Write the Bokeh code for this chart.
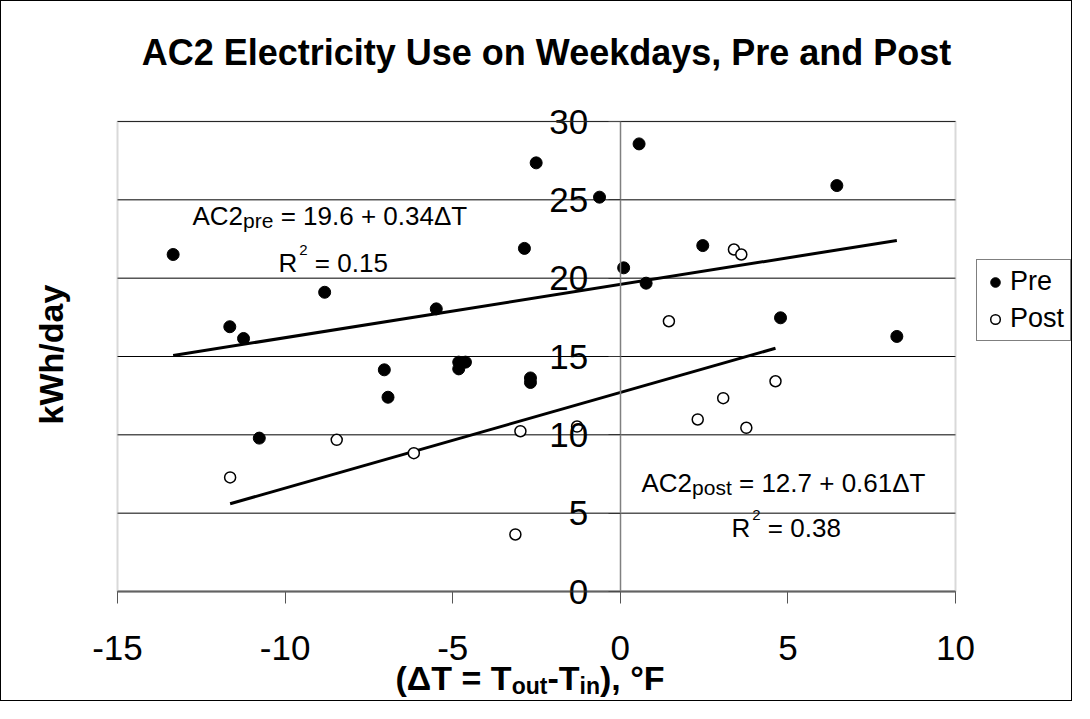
import math
from bokeh.plotting import figure
from bokeh.models import (Label, Legend, LegendItem, FixedTicker, LinearAxis, Range1d,
                          BoxAnnotation)
from bokeh.embed import file_html
from bokeh.resources import INLINE

# ---------------- data ----------------
title_text = "AC2 Electricity Use on Weekdays, Pre and Post"
series_names = ["Pre", "Post"]

pre_x = [-13.34, -11.65, -11.24, -10.77, -8.82, -7.04, -6.93, -5.49, -4.82, -4.62,
         -4.82, -2.68, -2.68, -2.86, -2.51, -0.62, 0.56, 0.10, 0.77, 2.46, 6.46, 4.78, 8.25]
pre_y = [21.51, 16.90, 16.15, 9.79, 19.10, 14.15, 12.40, 18.04, 14.64, 14.64,
         14.21, 13.63, 13.34, 21.90, 27.36, 25.17, 28.57, 20.66, 19.68, 22.08, 25.91, 17.47, 16.28]

post_x = [-11.64, -8.46, -6.16, -2.98, -3.13, -1.29, 2.31, 3.07, 3.76, 4.63, 1.45, 3.39, 3.61]
post_y = [7.28, 9.68, 8.83, 10.23, 3.64, 10.53, 10.98, 12.34, 10.45, 13.42, 17.25, 21.83, 21.51]

pre_intercept, pre_slope, pre_r2 = 19.6, 0.34, "0.15"
post_intercept, post_slope, post_r2 = 12.7, 0.61, "0.38"

x_ticks = [-15, -10, -5, 0, 5, 10]
y_ticks = [0, 5, 10, 15, 20, 25, 30]
y_label = "kWh/day"

# ---------------- layout ----------------
FONT = "Liberation Sans"
W, H = 1072, 701
OX, OY = 1, 1                        # canvas origin in the picture
FL, FR, FT, FB = 117, 955, 121, 591  # data box edges in the picture
XMIN, XMAX, YMIN, YMAX = x_ticks[0], x_ticks[-1], y_ticks[0], y_ticks[-1]
KX = (XMAX - XMIN) / (FR - FL)
KY = (YMAX - YMIN) / (FB - FT)

x_range = Range1d(XMIN - (FL - OX) * KX, XMAX + (OX + W - FR) * KX)
y_range = Range1d(YMIN - (OY + H - FB) * KY, YMAX + (FT - OY) * KY)

p = figure(width=W, height=H, x_range=x_range, y_range=y_range, title=None,
           output_backend="svg", toolbar_location=None,
           x_axis_location=None, y_axis_location=None, min_border=0)
p.styles = {"border": "1px solid black"}
p.background_fill_color = "white"
p.border_fill_color = "white"
p.outline_line_color = None
p.xgrid.visible = False
p.ygrid.visible = False

def px2x(px):
    return XMIN + (px - FL) * KX

def py2y(py):
    return YMIN + (FB - py) * KY

# horizontal grid lines at the y ticks
n = len(y_ticks)
p.segment(x0=[XMIN] * n, y0=y_ticks, x1=[XMAX] * n, y1=y_ticks, line_color="black", line_width=1)

# plot-area border
p.add_layout(BoxAnnotation(left=XMIN, right=XMAX, bottom=YMIN, top=YMAX,
                           fill_color=None, line_color="#808080", line_width=2))

# x axis along y = 0
xa = LinearAxis(fixed_location=0, bounds=(XMIN, XMAX), ticker=FixedTicker(ticks=x_ticks))
xa.major_label_overrides = {t: str(t) for t in x_ticks}
xa.major_label_text_font = FONT
xa.major_label_text_font_size = "35px"
xa.major_label_text_color = "black"
xa.major_label_standoff = 32
xa.major_tick_out = 12
xa.major_tick_in = 0
xa.minor_tick_line_color = None
xa.axis_line_color = "#555555"
xa.axis_line_width = 2
xa.major_tick_line_color = "#555555"
xa.major_tick_line_width = 1
p.add_layout(xa, "below")

# y axis crossing at x = 0
ya = LinearAxis(fixed_location=0, bounds=(YMIN, YMAX), ticker=FixedTicker(ticks=y_ticks))
ya.major_label_overrides = {t: str(t) for t in y_ticks}
ya.major_label_text_font = FONT
ya.major_label_text_font_size = "35px"
ya.major_label_text_color = "black"
ya.major_label_standoff = 20
ya.major_tick_out = 12
ya.major_tick_in = 0
ya.minor_tick_line_color = None
ya.axis_line_color = "#808080"
ya.axis_line_width = 1.5
ya.major_tick_line_color = "#333333"
p.add_layout(ya, "left")

# fit lines
def fit_line(xs, a, b):
    x0, x1 = min(xs), max(xs)
    return [x0, x1], [a + b * x0, a + b * x1]

lx, ly = fit_line(pre_x, pre_intercept, pre_slope)
p.line(lx, ly, line_color="black", line_width=3)
lx, ly = fit_line(post_x, post_intercept, post_slope)
p.line(lx, ly, line_color="black", line_width=3)

r_pre = p.scatter(pre_x, pre_y, marker="circle", size=12, fill_color="black", line_color="black")
r_post = p.scatter(post_x, post_y, marker="circle", size=11, fill_color="white",
                   line_color="black", line_width=1.5)

legend = Legend(items=[LegendItem(label=series_names[0], renderers=[r_pre]),
                       LegendItem(label=series_names[1], renderers=[r_post])],
                location=(976 - OX, OY + H - 341))
legend.label_text_font = FONT
legend.label_text_font_size = "27px"
legend.label_text_color = "black"
legend.border_line_color = "black"
legend.border_line_width = 1
legend.background_fill_color = "white"
legend.background_fill_alpha = 1.0
legend.padding = 6
legend.spacing = 6
legend.margin = 0
legend.label_standoff = 3
legend.glyph_width = 24
legend.glyph_height = 30
legend.label_height = 30
p.add_layout(legend, "center")

# ---------------- text annotations ----------------
REG = {' ': 278, '(': 333, ')': 333, '=': 584, '+': 584, '-': 333, '.': 278, ',': 278,
       'A': 667, 'C': 722, 'R': 722, 'T': 611, 'F': 611, 'p': 556, 'r': 333, 'e': 556,
       'o': 556, 's': 500, 't': 278, 'Δ': 668}
BOLD = {' ': 278, '(': 333, ')': 333, '=': 584, '-': 333, ',': 278, '°': 400, 'T': 611,
        'F': 611, 'o': 611, 'u': 611, 't': 333, 'i': 278, 'n': 611, 'Δ': 722}

def text_width(s, size, bold):
    table = BOLD if bold else REG
    return sum(table.get(ch, 556) for ch in s) / 1000.0 * size

def base_fix(size):
    # measured offset of the rendered alphabetic baseline
    return 4 + 0.2 * size

def add_text(x_px, base_px, text, size, bold=False, align="left"):
    p.add_layout(Label(x=px2x(x_px), y=py2y(base_px - base_fix(size)), text=text,
                       text_font=FONT, text_font_size=f"{size}px",
                       text_font_style="bold" if bold else "normal",
                       text_align=align, text_baseline="alphabetic", text_color="black"))

def rich(x_px, base_px, parts, bold=False):
    x = x_px
    for text, size, dy, dx in parts:
        body = text.lstrip(" ")
        x += dx + text_width(text[:len(text) - len(body)], size, bold)
        add_text(x, base_px + dy, body, size, bold)
        x += text_width(body, size, bold)

# chart title
add_text(546, 63, title_text, 36, bold=True, align="center")

rich(192, 225, [("AC2", 26, 0, 0), ("pre", 21, 3.5, 0),
                (f" = {pre_intercept} + {pre_slope}ΔT", 26, 0, 0)])
rich(278, 272, [("R", 26, 0, 0), ("2", 15, -16, 2), (f" = {pre_r2}", 26, 0, 0)])
rich(641, 492, [("AC2", 26, 0, 0), ("post", 21, 3.5, 0),
                (f" = {post_intercept} + {post_slope}ΔT", 26, 0, 0)])
rich(731, 537, [("R", 26, 0, 0), ("2", 15, -16, 2), (f" = {post_r2}", 26, 0, 0)])

# x axis title with subscripts
rich(395, 688, [("(ΔT = T", 34, 0, 0), ("out", 23, 6, 0), ("-T", 34, 0, 0),
                ("in", 23, 6, 0), ("), °F", 34, 0, 0)], bold=True)

# y axis title
p.add_layout(Label(x=px2x(50), y=py2y(354), text=y_label, angle=math.pi / 2,
                   text_font=FONT, text_font_size="34px", text_font_style="bold",
                   text_align="center", text_baseline="middle", text_color="black"))

open("out.html", "w").write(file_html(p, INLINE))
